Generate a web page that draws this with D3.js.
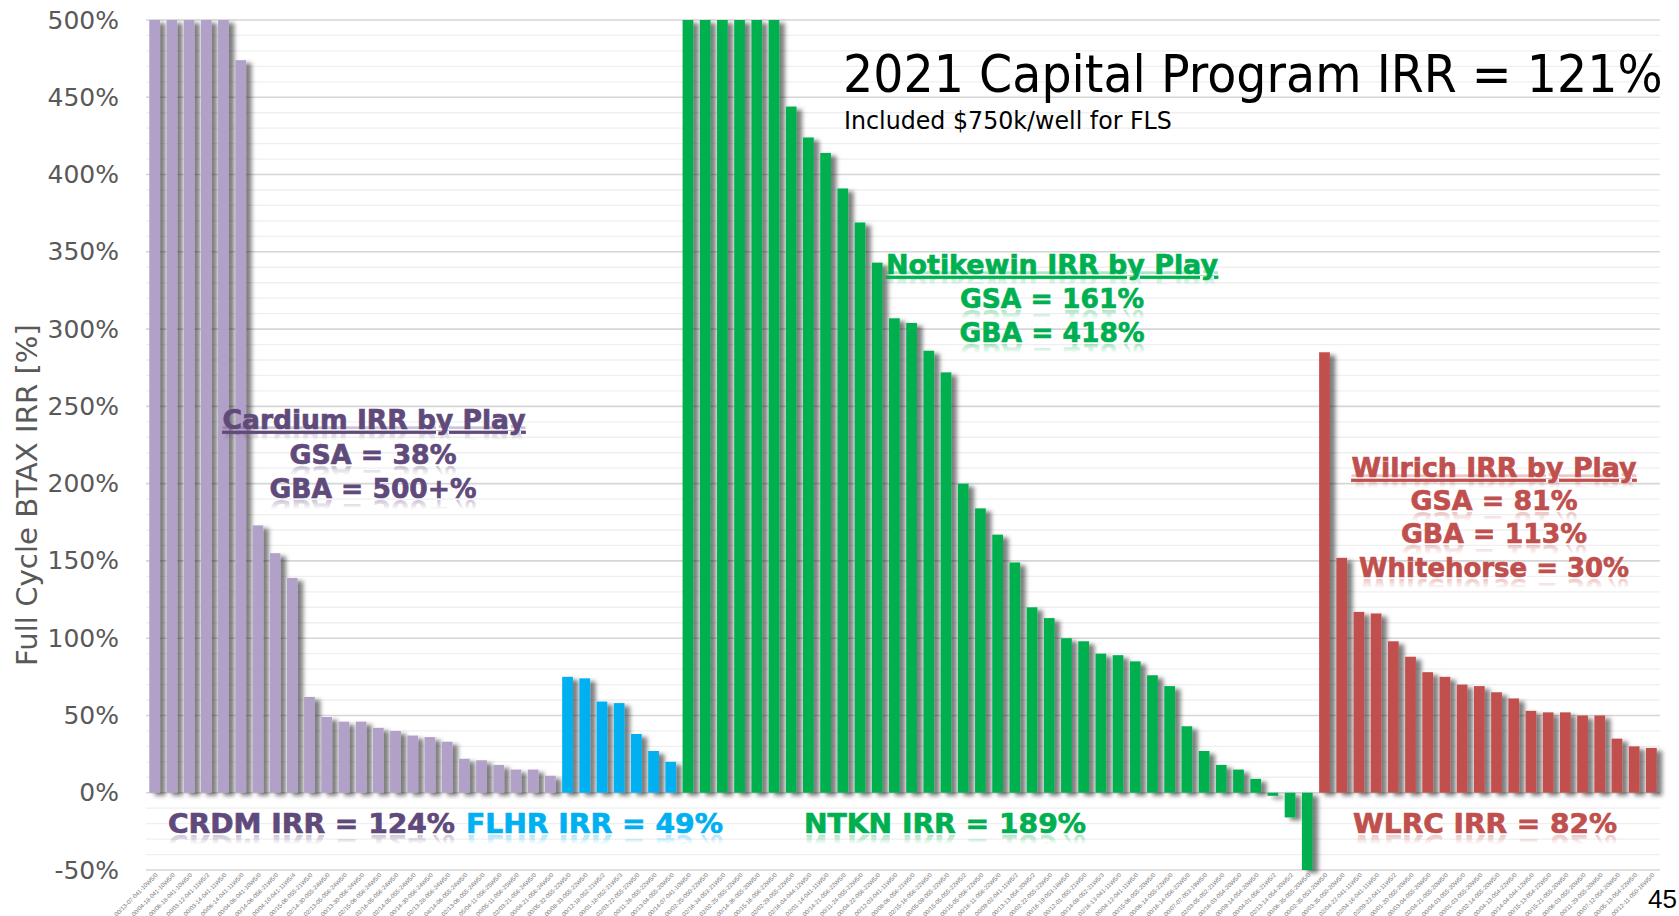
<!DOCTYPE html>
<html>
<head>
<meta charset="utf-8">
<script src="https://cdn.jsdelivr.net/npm/d3@7"></script>
<style>
  html, body { margin: 0; padding: 0; background: #ffffff; overflow: hidden; }
  svg { display: block; }
</style>
</head>
<body>
<svg id="chart" width="1679" height="916"></svg>
<script>
// ---- Full-cycle BTAX IRR per well (%), sorted within each play ----
const cardiumIRR   = [500, 500, 500, 500, 500, 474, 173, 155, 139, 62, 49, 46, 46, 42, 40, 37, 36, 33, 22, 21, 18, 15, 15, 11];
const flhrIRR      = [75, 74, 59, 58, 38, 27, 20];
const notikewinIRR = [500, 500, 500, 500, 500, 500, 444, 424, 414, 391, 369, 343, 307, 304, 286, 272,
                      200, 184, 167, 149, 120, 113, 100, 98, 90, 89, 85, 76, 69, 43, 27, 18, 15, 9, -2, -16, -50];
const wilrichIRR   = [285, 152, 117, 116, 98, 88, 78, 75, 70, 69, 65, 61, 53, 52, 52, 50, 50, 35, 30, 29];

// ---- Well identifiers (category labels) ----
const cardiumWells = ["00/13-07-041-10W5/0","00/04-18-041-10W5/0","00/06-18-041-10W5/0","00/03-12-041-11W5/2",
  "00/03-14-041-11W5/0","00/06-14-041-11W5/0","00/04-06-041-10W5/0","00/14-06-056-21W5/0","00/04-10-041-11W5/4",
  "00/15-06-055-21W5/0","02/14-30-055-24W5/0","02/13-05-056-24W5/0","00/13-30-056-24W5/0","02/15-06-056-24W5/0",
  "02/16-05-056-24W5/0","02/14-05-055-24W5/0","00/14-30-056-24W5/0","02/13-28-056-24W5/0","04/14-06-055-24W5/0",
  "02/13-06-055-24W5/0","05/04-11-056-25W5/0","00/05-11-056-25W5/0","02/03-21-056-24W5/0","00/04-21-056-24W5/0"];
const flhrWells = ["00/05-32-055-22W5/0","00/08-33-055-22W5/0","00/12-18-052-21W5/2","00/01-18-052-21W5/3",
  "02/03-22-055-22W5/0","00/11-26-055-22W5/0","00/13-04-055-20W5/0"];
const notikewinWells = ["00/14-07-041-10W5/0","00/02-25-050-22W5/0","02/16-34-053-21W5/0","02/02-25-055-22W5/0",
  "00/14-36-055-20W5/0","00/15-16-056-22W5/0","02/02-29-055-22W5/0","02/16-04-044-12W5/0","02/01-14-041-11W5/0",
  "00/14-21-056-22W5/0","00/11-24-055-22W5/0","00/04-22-056-22W5/0","00/12-03-041-11W5/0","00/08-06-056-21W5/0",
  "02/15-16-056-22W5/0","00/05-09-055-22W5/0","00/15-05-055-22W5/2","00/15-05-056-22W5/0","00/16-11-056-22W5/0",
  "00/09-02-041-11W5/2","00/13-13-054-20W5/2","00/02-22-055-22W5/0","00/16-19-053-18W5/0","00/12-01-055-21W5/0",
  "00/14-08-052-21W5/3","02/16-13-041-11W5/0","00/04-12-041-11W5/0","00/15-06-055-20W5/0","00/06-14-055-22W5/0",
  "00/16-14-056-22W5/0","00/07-07-053-19W5/0","02/03-05-052-21W5/0","00/16-03-054-20W5/0","00/09-14-054-20W5/0",
  "00/04-01-056-21W5/2","02/13-14-054-20W5/2","00/06-35-055-20W5/0"];
const wilrichWells = ["00/02-35-053-20W5/0","00/03-35-050-20W5/0","02/04-22-041-11W5/0","02/04-16-041-11W5/0",
  "02/09-22-041-11W5/2","00/01-20-055-20W5/0","00/03-04-055-20W5/0","02/04-21-055-20W5/0","00/04-03-055-20W5/0",
  "00/01-03-055-20W5/0","00/02-14-055-20W5/0","00/04-13-054-22W5/0","00/14-04-044-12W5/0","00/15-13-054-22W5/0",
  "00/15-21-055-20W5/0","00/06-03-055-20W5/0","00/11-29-055-20W5/0","00/07-12-054-20W5/0","00/05-13-054-22W5/0",
  "00/12-11-050-16W5/0"];

// ---- Axis ticks ----
const yTicks = [-50, 0, 50, 100, 150, 200, 250, 300, 350, 400, 450, 500];

// ---- Play colours ----
const barColor  = { CRDM: "#b1a0c7", FLHR: "#00b0f0", NTKN: "#00b050", WLRC: "#c0504d" };
const textColor = { CRDM: "#604a7b", FLHR: "#00b0f0", NTKN: "#00b050", WLRC: "#c0504d" };

// Flat table of wells for the band scale
const wells = [];
[["CRDM", cardiumIRR, cardiumWells], ["FLHR", flhrIRR, flhrWells],
 ["NTKN", notikewinIRR, notikewinWells], ["WLRC", wilrichIRR, wilrichWells]]
  .forEach(([play, vals, names]) => vals.forEach((v, i) => wells.push({ play, value: v, name: names[i] })));

const svg = d3.select("#chart");
const FONT = "'DejaVu Sans', Verdana, sans-serif";

const x = d3.scaleBand()
  .domain(d3.range(wells.length))
  .range([146, 1660])
  .paddingInner(0.375)
  .paddingOuter(0.19);

const y = d3.scaleLinear().domain([-50, 500]).range([870, 20]);

// ---- defs: bar shadow + reflection gradients ----
const defs = svg.append("defs");
const f = defs.append("filter").attr("id", "barShadow")
  .attr("x", "-5%").attr("y", "-5%").attr("width", "110%").attr("height", "110%");
f.append("feDropShadow").attr("dx", 5.5).attr("dy", 3).attr("stdDeviation", 2.2)
  .attr("flood-color", "#000").attr("flood-opacity", 0.5);

Object.entries(textColor).forEach(([k, c]) => {
  const lg = defs.append("linearGradient").attr("id", "refl-" + k)
    .attr("x1", 0).attr("y1", 0).attr("x2", 0).attr("y2", 1);
  lg.append("stop").attr("offset", 0).attr("stop-color", c).attr("stop-opacity", 0);
  lg.append("stop").attr("offset", 0.5).attr("stop-color", c).attr("stop-opacity", 0);
  lg.append("stop").attr("offset", 0.8).attr("stop-color", c).attr("stop-opacity", 0.32);
  lg.append("stop").attr("offset", 1).attr("stop-color", c).attr("stop-opacity", 0.32);
});

// ---- gridlines ----
const grid = svg.append("g");
grid.selectAll("line")
  .data(d3.range(-50, 501, 10))
  .join("line")
  .attr("x1", 146).attr("x2", 1660)
  .attr("y1", d => y(d)).attr("y2", d => y(d))
  .attr("stroke", d => d % 50 === 0 ? "#d6d6d6" : "#efefef")
  .attr("stroke-width", d => d % 50 === 0 ? 1.6 : 1.3);

// ---- y axis ----
const yAxis = svg.append("g").attr("transform", "translate(146,0)")
  .call(d3.axisLeft(y).tickValues(yTicks).tickSize(0).tickPadding(27).tickFormat(d => d + "%"));
yAxis.select(".domain").remove();
yAxis.selectAll("text")
  .attr("font-family", FONT).attr("font-size", 25).attr("fill", "#595959");

svg.append("text")
  .attr("transform", "translate(37,495) rotate(-90)")
  .attr("text-anchor", "middle")
  .attr("font-family", FONT).attr("font-size", 28).attr("fill", "#595959")
  .attr("textLength", 342).attr("lengthAdjust", "spacingAndGlyphs")
  .text("Full Cycle BTAX IRR [%]");

// ---- bars ----
const barsG = svg.append("g").attr("filter", "url(#barShadow)");
barsG.selectAll("rect")
  .data(wells)
  .join("rect")
  .attr("x", (d, i) => x(i))
  .attr("width", x.bandwidth())
  .attr("y", d => Math.min(y(d.value), y(0)))
  .attr("height", d => Math.abs(y(d.value) - y(0)))
  .attr("fill", d => barColor[d.play]);

// ---- category labels ----
svg.append("g").selectAll("text")
  .data(wells)
  .join("text")
  .attr("transform", (d, i) => `translate(${x(i) + x.bandwidth() / 2 + 2},${874}) rotate(-45)`)
  .attr("text-anchor", "end")
  .attr("dy", "0.35em")
  .attr("font-family", "'Liberation Sans', Arial, sans-serif")
  .attr("font-size", 6)
  .attr("fill", "#737373")
  .text(d => d.name);

// ---- bold coloured text with a faint mirrored reflection (drawn as a <use> clone) ----
let textId = 0;
function reflectedText(str, px, baseline, play, opts = {}) {
  const id = "lbl" + (textId++);
  const g = svg.append("g")
    .attr("fill", textColor[play])
    .attr("stroke", textColor[play]).attr("stroke-width", 0.7)
    .attr("font-family", FONT).attr("font-weight", "bold").attr("font-size", opts.size || 27);
  g.append("text")
    .attr("id", id)
    .attr("x", px).attr("y", baseline)
    .attr("text-anchor", opts.anchor || "middle")
    .attr("textLength", opts.length).attr("lengthAdjust", "spacingAndGlyphs")
    .attr("text-decoration", opts.underline ? "underline" : null)
    .text(str);
  g.insert("use", "text")
    .attr("href", "#" + id)
    .attr("transform", `translate(0,${2 * baseline + 2}) scale(1,-1)`)
    .attr("fill", `url(#refl-${play})`)
    .attr("stroke", "none");
}

// play summaries
reflectedText("Cardium IRR by Play", 374, 429, "CRDM", { length: 303, underline: true });
reflectedText("GSA = 38%", 373, 464, "CRDM", { length: 167 });
reflectedText("GBA = 500+%", 373, 498, "CRDM", { length: 207 });

reflectedText("Notikewin IRR by Play", 1052, 274, "NTKN", { length: 332, underline: true });
reflectedText("GSA = 161%", 1052, 308, "NTKN", { length: 184 });
reflectedText("GBA = 418%", 1052, 342, "NTKN", { length: 185 });

reflectedText("Wilrich IRR by Play", 1494, 477, "WLRC", { length: 285, underline: true });
reflectedText("GSA = 81%", 1494, 510, "WLRC", { length: 167 });
reflectedText("GBA = 113%", 1494, 543, "WLRC", { length: 186 });
reflectedText("Whitehorse = 30%", 1494, 577, "WLRC", { length: 270 });

// area totals below the zero line
reflectedText("CRDM IRR = 124%", 168, 833, "CRDM", { anchor: "start", length: 287 });
reflectedText("FLHR IRR = 49%", 466, 833, "FLHR", { anchor: "start", length: 257 });
reflectedText("NTKN IRR = 189%", 804, 833, "NTKN", { anchor: "start", length: 282 });
reflectedText("WLRC IRR = 82%", 1353, 833, "WLRC", { anchor: "start", length: 264 });

// ---- headline (horizontally fitted to its column) ----
function fittedText(str, px, baseline, size, width) {
  const t = svg.append("text")
    .attr("font-family", FONT).attr("font-size", size).attr("fill", "#000")
    .text(str);
  const w = t.node().getComputedTextLength();
  t.attr("transform", `translate(${px},${baseline}) scale(${width / w},1)`);
}
fittedText("2021 Capital Program IRR = 121%", 843, 92, 52, 820);
fittedText("Included $750k/well for FLS", 844, 129, 24, 328);

// page number
svg.append("text")
  .attr("x", 1677).attr("y", 908).attr("text-anchor", "end")
  .attr("font-family", "'Liberation Sans', Arial, sans-serif").attr("font-size", 26).attr("fill", "#000")
  .text("45");
</script>
</body>
</html>
